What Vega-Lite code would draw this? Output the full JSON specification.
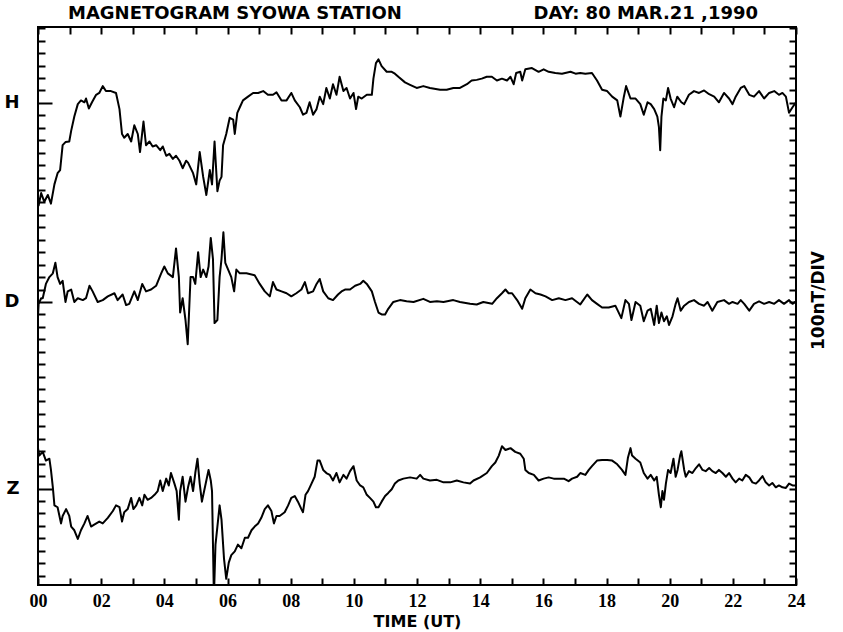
{
"$schema": "https://vega.github.io/schema/vega-lite/v6.json",
"width": 758, "height": 558,
"autosize": {"type": "none"},
"padding": {"left": 38, "top": 27, "right": 47, "bottom": 47},
"background": "white",
"config": {"view": {"stroke": "black", "strokeWidth": 2}, "font": "DejaVu Sans"},
"title": {"text": "MAGNETOGRAM SYOWA STATION\u00a0\u00a0\u00a0\u00a0\u00a0\u00a0\u00a0\u00a0\u00a0\u00a0\u00a0\u00a0\u00a0\u00a0\u00a0\u00a0\u00a0\u00a0\u00a0\u00a0\u00a0DAY: 80 MAR.21 ,1990", "anchor": "start", "frame": "group", "dx": 30, "dy": 7, "offset": 3, "font": "DejaVu Sans", "fontSize": 18, "fontWeight": "bold", "color": "black"},
"datasets": {
"traces": [
{"comp":"H","hour":0,"nT":169},{"comp":"H","hour":0.02,"nT":155},{"comp":"H","hour":0.10,"nT":175},{"comp":"H","hour":0.20,"nT":161},{"comp":"H","hour":0.31,"nT":172},{"comp":"H","hour":0.41,"nT":158},{"comp":"H","hour":0.52,"nT":189},{"comp":"H","hour":0.62,"nT":207},{"comp":"H","hour":0.70,"nT":212},{"comp":"H","hour":0.78,"nT":252},{"comp":"H","hour":0.87,"nT":257},{"comp":"H","hour":0.99,"nT":258},{"comp":"H","hour":1.05,"nT":275},{"comp":"H","hour":1.15,"nT":298},{"comp":"H","hour":1.26,"nT":318},{"comp":"H","hour":1.36,"nT":324},{"comp":"H","hour":1.47,"nT":321},{"comp":"H","hour":1.52,"nT":327},{"comp":"H","hour":1.61,"nT":311},{"comp":"H","hour":1.71,"nT":321},{"comp":"H","hour":1.84,"nT":333},{"comp":"H","hour":1.94,"nT":336},{"comp":"H","hour":2.05,"nT":347},{"comp":"H","hour":2.15,"nT":339},{"comp":"H","hour":2.31,"nT":339},{"comp":"H","hour":2.47,"nT":336},{"comp":"H","hour":2.58,"nT":310},{"comp":"H","hour":2.66,"nT":270},{"comp":"H","hour":2.73,"nT":264},{"comp":"H","hour":2.84,"nT":270},{"comp":"H","hour":2.95,"nT":258},{"comp":"H","hour":3.05,"nT":284},{"comp":"H","hour":3.16,"nT":270},{"comp":"H","hour":3.23,"nT":241},{"comp":"H","hour":3.34,"nT":290},{"comp":"H","hour":3.42,"nT":252},{"comp":"H","hour":3.53,"nT":258},{"comp":"H","hour":3.63,"nT":250},{"comp":"H","hour":3.74,"nT":252},{"comp":"H","hour":3.87,"nT":244},{"comp":"H","hour":3.95,"nT":250},{"comp":"H","hour":4.06,"nT":235},{"comp":"H","hour":4.16,"nT":238},{"comp":"H","hour":4.27,"nT":230},{"comp":"H","hour":4.37,"nT":235},{"comp":"H","hour":4.48,"nT":227},{"comp":"H","hour":4.58,"nT":215},{"comp":"H","hour":4.69,"nT":227},{"comp":"H","hour":4.75,"nT":224},{"comp":"H","hour":4.91,"nT":207},{"comp":"H","hour":5.01,"nT":189},{"comp":"H","hour":5.12,"nT":241},{"comp":"H","hour":5.23,"nT":201},{"comp":"H","hour":5.33,"nT":172},{"comp":"H","hour":5.44,"nT":212},{"comp":"H","hour":5.51,"nT":189},{"comp":"H","hour":5.59,"nT":258},{"comp":"H","hour":5.68,"nT":178},{"comp":"H","hour":5.75,"nT":195},{"comp":"H","hour":5.81,"nT":201},{"comp":"H","hour":5.86,"nT":252},{"comp":"H","hour":5.96,"nT":270},{"comp":"H","hour":6.07,"nT":296},{"comp":"H","hour":6.18,"nT":293},{"comp":"H","hour":6.23,"nT":270},{"comp":"H","hour":6.31,"nT":304},{"comp":"H","hour":6.39,"nT":313},{"comp":"H","hour":6.49,"nT":324},{"comp":"H","hour":6.65,"nT":330},{"comp":"H","hour":6.81,"nT":336},{"comp":"H","hour":6.97,"nT":336},{"comp":"H","hour":7.13,"nT":339},{"comp":"H","hour":7.28,"nT":333},{"comp":"H","hour":7.44,"nT":333},{"comp":"H","hour":7.55,"nT":337},{"comp":"H","hour":7.71,"nT":324},{"comp":"H","hour":7.87,"nT":324},{"comp":"H","hour":8.02,"nT":336},{"comp":"H","hour":8.13,"nT":324},{"comp":"H","hour":8.29,"nT":313},{"comp":"H","hour":8.39,"nT":301},{"comp":"H","hour":8.50,"nT":304},{"comp":"H","hour":8.60,"nT":321},{"comp":"H","hour":8.71,"nT":301},{"comp":"H","hour":8.82,"nT":310},{"comp":"H","hour":8.92,"nT":330},{"comp":"H","hour":9.03,"nT":318},{"comp":"H","hour":9.13,"nT":344},{"comp":"H","hour":9.24,"nT":327},{"comp":"H","hour":9.34,"nT":350},{"comp":"H","hour":9.45,"nT":333},{"comp":"H","hour":9.55,"nT":362},{"comp":"H","hour":9.67,"nT":339},{"comp":"H","hour":9.77,"nT":344},{"comp":"H","hour":9.88,"nT":327},{"comp":"H","hour":9.99,"nT":336},{"comp":"H","hour":10.07,"nT":310},{"comp":"H","hour":10.14,"nT":330},{"comp":"H","hour":10.25,"nT":327},{"comp":"H","hour":10.41,"nT":333},{"comp":"H","hour":10.57,"nT":333},{"comp":"H","hour":10.62,"nT":359},{"comp":"H","hour":10.70,"nT":384},{"comp":"H","hour":10.78,"nT":390},{"comp":"H","hour":10.88,"nT":379},{"comp":"H","hour":11.04,"nT":370},{"comp":"H","hour":11.20,"nT":370},{"comp":"H","hour":11.30,"nT":367},{"comp":"H","hour":11.41,"nT":362},{"comp":"H","hour":11.62,"nT":353},{"comp":"H","hour":11.78,"nT":349},{"comp":"H","hour":11.99,"nT":344},{"comp":"H","hour":12.20,"nT":347},{"comp":"H","hour":12.41,"nT":344},{"comp":"H","hour":12.73,"nT":341},{"comp":"H","hour":12.94,"nT":341},{"comp":"H","hour":13.15,"nT":344},{"comp":"H","hour":13.36,"nT":344},{"comp":"H","hour":13.58,"nT":350},{"comp":"H","hour":13.73,"nT":356},{"comp":"H","hour":13.89,"nT":357},{"comp":"H","hour":14.05,"nT":359},{"comp":"H","hour":14.21,"nT":362},{"comp":"H","hour":14.37,"nT":362},{"comp":"H","hour":14.53,"nT":356},{"comp":"H","hour":14.69,"nT":359},{"comp":"H","hour":14.85,"nT":356},{"comp":"H","hour":14.96,"nT":362},{"comp":"H","hour":15.06,"nT":350},{"comp":"H","hour":15.14,"nT":368},{"comp":"H","hour":15.27,"nT":370},{"comp":"H","hour":15.33,"nT":356},{"comp":"H","hour":15.43,"nT":374},{"comp":"H","hour":15.64,"nT":376},{"comp":"H","hour":15.85,"nT":370},{"comp":"H","hour":16.01,"nT":374},{"comp":"H","hour":16.17,"nT":370},{"comp":"H","hour":16.38,"nT":368},{"comp":"H","hour":16.59,"nT":367},{"comp":"H","hour":16.86,"nT":370},{"comp":"H","hour":17.02,"nT":367},{"comp":"H","hour":17.17,"nT":368},{"comp":"H","hour":17.33,"nT":367},{"comp":"H","hour":17.54,"nT":368},{"comp":"H","hour":17.70,"nT":356},{"comp":"H","hour":17.86,"nT":341},{"comp":"H","hour":18.02,"nT":339},{"comp":"H","hour":18.18,"nT":330},{"comp":"H","hour":18.34,"nT":324},{"comp":"H","hour":18.44,"nT":298},{"comp":"H","hour":18.55,"nT":330},{"comp":"H","hour":18.62,"nT":347},{"comp":"H","hour":18.76,"nT":327},{"comp":"H","hour":18.92,"nT":327},{"comp":"H","hour":19.07,"nT":318},{"comp":"H","hour":19.18,"nT":301},{"comp":"H","hour":19.30,"nT":321},{"comp":"H","hour":19.40,"nT":318},{"comp":"H","hour":19.51,"nT":310},{"comp":"H","hour":19.61,"nT":298},{"comp":"H","hour":19.66,"nT":281},{"comp":"H","hour":19.70,"nT":244},{"comp":"H","hour":19.74,"nT":298},{"comp":"H","hour":19.80,"nT":327},{"comp":"H","hour":19.88,"nT":324},{"comp":"H","hour":19.95,"nT":344},{"comp":"H","hour":20.03,"nT":327},{"comp":"H","hour":20.14,"nT":313},{"comp":"H","hour":20.24,"nT":330},{"comp":"H","hour":20.37,"nT":321},{"comp":"H","hour":20.46,"nT":318},{"comp":"H","hour":20.61,"nT":333},{"comp":"H","hour":20.77,"nT":339},{"comp":"H","hour":20.93,"nT":336},{"comp":"H","hour":21.09,"nT":340},{"comp":"H","hour":21.25,"nT":334},{"comp":"H","hour":21.41,"nT":330},{"comp":"H","hour":21.56,"nT":321},{"comp":"H","hour":21.72,"nT":336},{"comp":"H","hour":21.88,"nT":327},{"comp":"H","hour":21.99,"nT":318},{"comp":"H","hour":22.09,"nT":330},{"comp":"H","hour":22.25,"nT":344},{"comp":"H","hour":22.36,"nT":347},{"comp":"H","hour":22.52,"nT":333},{"comp":"H","hour":22.67,"nT":330},{"comp":"H","hour":22.83,"nT":339},{"comp":"H","hour":22.99,"nT":327},{"comp":"H","hour":23.15,"nT":336},{"comp":"H","hour":23.31,"nT":339},{"comp":"H","hour":23.46,"nT":333},{"comp":"H","hour":23.57,"nT":336},{"comp":"H","hour":23.68,"nT":330},{"comp":"H","hour":23.78,"nT":304},{"comp":"H","hour":23.89,"nT":313},{"comp":"H","hour":24.00,"nT":321},
{"comp":"D","hour":0,"nT":-23},{"comp":"D","hour":0.02,"nT":-3},{"comp":"D","hour":0.10,"nT":6},{"comp":"D","hour":0.15,"nT":6},{"comp":"D","hour":0.25,"nT":29},{"comp":"D","hour":0.36,"nT":40},{"comp":"D","hour":0.47,"nT":46},{"comp":"D","hour":0.55,"nT":63},{"comp":"D","hour":0.62,"nT":40},{"comp":"D","hour":0.70,"nT":29},{"comp":"D","hour":0.78,"nT":34},{"comp":"D","hour":0.87,"nT":0},{"comp":"D","hour":0.94,"nT":17},{"comp":"D","hour":1.05,"nT":20},{"comp":"D","hour":1.15,"nT":0},{"comp":"D","hour":1.26,"nT":6},{"comp":"D","hour":1.42,"nT":3},{"comp":"D","hour":1.52,"nT":6},{"comp":"D","hour":1.63,"nT":26},{"comp":"D","hour":1.73,"nT":17},{"comp":"D","hour":1.89,"nT":0},{"comp":"D","hour":2.05,"nT":3},{"comp":"D","hour":2.21,"nT":9},{"comp":"D","hour":2.42,"nT":14},{"comp":"D","hour":2.52,"nT":3},{"comp":"D","hour":2.68,"nT":12},{"comp":"D","hour":2.79,"nT":-5},{"comp":"D","hour":2.89,"nT":-3},{"comp":"D","hour":3.05,"nT":17},{"comp":"D","hour":3.16,"nT":3},{"comp":"D","hour":3.30,"nT":29},{"comp":"D","hour":3.42,"nT":17},{"comp":"D","hour":3.58,"nT":20},{"comp":"D","hour":3.74,"nT":26},{"comp":"D","hour":3.90,"nT":46},{"comp":"D","hour":4.00,"nT":57},{"comp":"D","hour":4.11,"nT":46},{"comp":"D","hour":4.27,"nT":40},{"comp":"D","hour":4.37,"nT":86},{"comp":"D","hour":4.46,"nT":40},{"comp":"D","hour":4.50,"nT":-17},{"comp":"D","hour":4.58,"nT":6},{"comp":"D","hour":4.67,"nT":-29},{"comp":"D","hour":4.74,"nT":-68},{"comp":"D","hour":4.83,"nT":40},{"comp":"D","hour":4.91,"nT":40},{"comp":"D","hour":4.98,"nT":29},{"comp":"D","hour":5.07,"nT":80},{"comp":"D","hour":5.15,"nT":40},{"comp":"D","hour":5.23,"nT":52},{"comp":"D","hour":5.33,"nT":40},{"comp":"D","hour":5.40,"nT":57},{"comp":"D","hour":5.47,"nT":103},{"comp":"D","hour":5.54,"nT":69},{"comp":"D","hour":5.59,"nT":-34},{"comp":"D","hour":5.68,"nT":-29},{"comp":"D","hour":5.75,"nT":40},{"comp":"D","hour":5.81,"nT":69},{"comp":"D","hour":5.87,"nT":112},{"comp":"D","hour":5.93,"nT":63},{"comp":"D","hour":6.02,"nT":52},{"comp":"D","hour":6.12,"nT":40},{"comp":"D","hour":6.21,"nT":17},{"comp":"D","hour":6.28,"nT":52},{"comp":"D","hour":6.39,"nT":46},{"comp":"D","hour":6.60,"nT":46},{"comp":"D","hour":6.86,"nT":43},{"comp":"D","hour":7.02,"nT":29},{"comp":"D","hour":7.18,"nT":17},{"comp":"D","hour":7.34,"nT":9},{"comp":"D","hour":7.44,"nT":32},{"comp":"D","hour":7.55,"nT":20},{"comp":"D","hour":7.71,"nT":17},{"comp":"D","hour":7.87,"nT":14},{"comp":"D","hour":8.02,"nT":9},{"comp":"D","hour":8.18,"nT":14},{"comp":"D","hour":8.34,"nT":20},{"comp":"D","hour":8.45,"nT":32},{"comp":"D","hour":8.55,"nT":14},{"comp":"D","hour":8.71,"nT":17},{"comp":"D","hour":8.82,"nT":29},{"comp":"D","hour":8.92,"nT":37},{"comp":"D","hour":9.03,"nT":17},{"comp":"D","hour":9.19,"nT":6},{"comp":"D","hour":9.34,"nT":3},{"comp":"D","hour":9.50,"nT":12},{"comp":"D","hour":9.61,"nT":17},{"comp":"D","hour":9.72,"nT":20},{"comp":"D","hour":9.88,"nT":20},{"comp":"D","hour":10.04,"nT":26},{"comp":"D","hour":10.20,"nT":29},{"comp":"D","hour":10.30,"nT":34},{"comp":"D","hour":10.41,"nT":29},{"comp":"D","hour":10.57,"nT":17},{"comp":"D","hour":10.67,"nT":0},{"comp":"D","hour":10.78,"nT":-17},{"comp":"D","hour":10.88,"nT":-20},{"comp":"D","hour":10.99,"nT":-20},{"comp":"D","hour":11.09,"nT":-11},{"comp":"D","hour":11.25,"nT":0},{"comp":"D","hour":11.46,"nT":3},{"comp":"D","hour":11.67,"nT":1},{"comp":"D","hour":11.89,"nT":0},{"comp":"D","hour":12.20,"nT":5},{"comp":"D","hour":12.41,"nT":0},{"comp":"D","hour":12.63,"nT":1},{"comp":"D","hour":12.84,"nT":0},{"comp":"D","hour":13.15,"nT":3},{"comp":"D","hour":13.36,"nT":0},{"comp":"D","hour":13.68,"nT":-3},{"comp":"D","hour":13.89,"nT":-4},{"comp":"D","hour":14.10,"nT":0},{"comp":"D","hour":14.38,"nT":-3},{"comp":"D","hour":14.53,"nT":6},{"comp":"D","hour":14.69,"nT":14},{"comp":"D","hour":14.80,"nT":20},{"comp":"D","hour":14.90,"nT":14},{"comp":"D","hour":15.01,"nT":14},{"comp":"D","hour":15.17,"nT":3},{"comp":"D","hour":15.33,"nT":-11},{"comp":"D","hour":15.43,"nT":6},{"comp":"D","hour":15.59,"nT":20},{"comp":"D","hour":15.75,"nT":14},{"comp":"D","hour":15.91,"nT":12},{"comp":"D","hour":16.07,"nT":9},{"comp":"D","hour":16.28,"nT":3},{"comp":"D","hour":16.49,"nT":6},{"comp":"D","hour":16.70,"nT":3},{"comp":"D","hour":16.91,"nT":6},{"comp":"D","hour":17.17,"nT":-4},{"comp":"D","hour":17.39,"nT":12},{"comp":"D","hour":17.54,"nT":3},{"comp":"D","hour":17.70,"nT":-3},{"comp":"D","hour":17.86,"nT":-9},{"comp":"D","hour":18.07,"nT":-9},{"comp":"D","hour":18.28,"nT":-6},{"comp":"D","hour":18.47,"nT":-26},{"comp":"D","hour":18.60,"nT":3},{"comp":"D","hour":18.71,"nT":-3},{"comp":"D","hour":18.79,"nT":-29},{"comp":"D","hour":18.92,"nT":0},{"comp":"D","hour":19.07,"nT":-6},{"comp":"D","hour":19.18,"nT":-31},{"comp":"D","hour":19.30,"nT":-14},{"comp":"D","hour":19.40,"nT":-11},{"comp":"D","hour":19.51,"nT":-37},{"comp":"D","hour":19.59,"nT":-6},{"comp":"D","hour":19.66,"nT":-34},{"comp":"D","hour":19.74,"nT":-17},{"comp":"D","hour":19.82,"nT":-31},{"comp":"D","hour":19.91,"nT":-23},{"comp":"D","hour":19.98,"nT":-37},{"comp":"D","hour":20.09,"nT":-23},{"comp":"D","hour":20.19,"nT":-3},{"comp":"D","hour":20.25,"nT":6},{"comp":"D","hour":20.35,"nT":-14},{"comp":"D","hour":20.46,"nT":-6},{"comp":"D","hour":20.61,"nT":0},{"comp":"D","hour":20.77,"nT":3},{"comp":"D","hour":20.93,"nT":-3},{"comp":"D","hour":21.09,"nT":-6},{"comp":"D","hour":21.20,"nT":0},{"comp":"D","hour":21.35,"nT":-14},{"comp":"D","hour":21.51,"nT":0},{"comp":"D","hour":21.72,"nT":3},{"comp":"D","hour":21.88,"nT":-3},{"comp":"D","hour":21.99,"nT":0},{"comp":"D","hour":22.15,"nT":-3},{"comp":"D","hour":22.25,"nT":3},{"comp":"D","hour":22.36,"nT":-3},{"comp":"D","hour":22.52,"nT":-14},{"comp":"D","hour":22.67,"nT":-3},{"comp":"D","hour":22.83,"nT":1},{"comp":"D","hour":22.99,"nT":-3},{"comp":"D","hour":23.15,"nT":0},{"comp":"D","hour":23.31,"nT":-3},{"comp":"D","hour":23.46,"nT":3},{"comp":"D","hour":23.62,"nT":-3},{"comp":"D","hour":23.78,"nT":3},{"comp":"D","hour":23.89,"nT":-3},{"comp":"D","hour":24.00,"nT":1},
{"comp":"Z","hour":0,"nT":-235},{"comp":"Z","hour":0.04,"nT":-247},{"comp":"Z","hour":0.15,"nT":-241},{"comp":"Z","hour":0.25,"nT":-255},{"comp":"Z","hour":0.36,"nT":-252},{"comp":"Z","hour":0.41,"nT":-270},{"comp":"Z","hour":0.47,"nT":-298},{"comp":"Z","hour":0.52,"nT":-327},{"comp":"Z","hour":0.62,"nT":-330},{"comp":"Z","hour":0.73,"nT":-356},{"comp":"Z","hour":0.78,"nT":-344},{"comp":"Z","hour":0.89,"nT":-333},{"comp":"Z","hour":0.99,"nT":-344},{"comp":"Z","hour":1.05,"nT":-361},{"comp":"Z","hour":1.15,"nT":-367},{"comp":"Z","hour":1.26,"nT":-381},{"comp":"Z","hour":1.36,"nT":-367},{"comp":"Z","hour":1.47,"nT":-356},{"comp":"Z","hour":1.57,"nT":-344},{"comp":"Z","hour":1.68,"nT":-361},{"comp":"Z","hour":1.78,"nT":-358},{"comp":"Z","hour":1.94,"nT":-353},{"comp":"Z","hour":2.05,"nT":-356},{"comp":"Z","hour":2.21,"nT":-347},{"comp":"Z","hour":2.37,"nT":-336},{"comp":"Z","hour":2.47,"nT":-327},{"comp":"Z","hour":2.58,"nT":-330},{"comp":"Z","hour":2.66,"nT":-353},{"comp":"Z","hour":2.73,"nT":-338},{"comp":"Z","hour":2.84,"nT":-333},{"comp":"Z","hour":2.95,"nT":-315},{"comp":"Z","hour":3.02,"nT":-333},{"comp":"Z","hour":3.11,"nT":-327},{"comp":"Z","hour":3.21,"nT":-315},{"comp":"Z","hour":3.30,"nT":-327},{"comp":"Z","hour":3.37,"nT":-310},{"comp":"Z","hour":3.47,"nT":-318},{"comp":"Z","hour":3.58,"nT":-315},{"comp":"Z","hour":3.69,"nT":-310},{"comp":"Z","hour":3.79,"nT":-304},{"comp":"Z","hour":3.87,"nT":-287},{"comp":"Z","hour":3.95,"nT":-304},{"comp":"Z","hour":4.06,"nT":-284},{"comp":"Z","hour":4.14,"nT":-295},{"comp":"Z","hour":4.21,"nT":-275},{"comp":"Z","hour":4.32,"nT":-292},{"comp":"Z","hour":4.39,"nT":-304},{"comp":"Z","hour":4.46,"nT":-350},{"comp":"Z","hour":4.50,"nT":-304},{"comp":"Z","hour":4.58,"nT":-281},{"comp":"Z","hour":4.67,"nT":-321},{"comp":"Z","hour":4.75,"nT":-298},{"comp":"Z","hour":4.83,"nT":-281},{"comp":"Z","hour":4.91,"nT":-304},{"comp":"Z","hour":4.98,"nT":-275},{"comp":"Z","hour":5.05,"nT":-252},{"comp":"Z","hour":5.12,"nT":-292},{"comp":"Z","hour":5.19,"nT":-321},{"comp":"Z","hour":5.26,"nT":-304},{"comp":"Z","hour":5.33,"nT":-287},{"comp":"Z","hour":5.40,"nT":-270},{"comp":"Z","hour":5.47,"nT":-287},{"comp":"Z","hour":5.51,"nT":-304},{"comp":"Z","hour":5.57,"nT":-475},{"comp":"Z","hour":5.62,"nT":-390},{"comp":"Z","hour":5.68,"nT":-361},{"comp":"Z","hour":5.75,"nT":-327},{"comp":"Z","hour":5.81,"nT":-350},{"comp":"Z","hour":5.89,"nT":-413},{"comp":"Z","hour":5.96,"nT":-445},{"comp":"Z","hour":6.04,"nT":-419},{"comp":"Z","hour":6.12,"nT":-407},{"comp":"Z","hour":6.23,"nT":-401},{"comp":"Z","hour":6.33,"nT":-390},{"comp":"Z","hour":6.44,"nT":-396},{"comp":"Z","hour":6.55,"nT":-379},{"comp":"Z","hour":6.65,"nT":-379},{"comp":"Z","hour":6.76,"nT":-367},{"comp":"Z","hour":6.86,"nT":-361},{"comp":"Z","hour":6.97,"nT":-356},{"comp":"Z","hour":7.07,"nT":-347},{"comp":"Z","hour":7.18,"nT":-333},{"comp":"Z","hour":7.28,"nT":-327},{"comp":"Z","hour":7.39,"nT":-336},{"comp":"Z","hour":7.47,"nT":-356},{"comp":"Z","hour":7.55,"nT":-344},{"comp":"Z","hour":7.65,"nT":-344},{"comp":"Z","hour":7.81,"nT":-338},{"comp":"Z","hour":7.92,"nT":-327},{"comp":"Z","hour":8.02,"nT":-315},{"comp":"Z","hour":8.13,"nT":-312},{"comp":"Z","hour":8.23,"nT":-321},{"comp":"Z","hour":8.34,"nT":-333},{"comp":"Z","hour":8.39,"nT":-338},{"comp":"Z","hour":8.47,"nT":-310},{"comp":"Z","hour":8.55,"nT":-304},{"comp":"Z","hour":8.66,"nT":-292},{"comp":"Z","hour":8.76,"nT":-281},{"comp":"Z","hour":8.85,"nT":-255},{"comp":"Z","hour":8.92,"nT":-255},{"comp":"Z","hour":9.03,"nT":-270},{"comp":"Z","hour":9.13,"nT":-275},{"comp":"Z","hour":9.24,"nT":-278},{"comp":"Z","hour":9.34,"nT":-287},{"comp":"Z","hour":9.45,"nT":-275},{"comp":"Z","hour":9.55,"nT":-290},{"comp":"Z","hour":9.67,"nT":-278},{"comp":"Z","hour":9.77,"nT":-284},{"comp":"Z","hour":9.88,"nT":-272},{"comp":"Z","hour":9.99,"nT":-264},{"comp":"Z","hour":10.09,"nT":-287},{"comp":"Z","hour":10.20,"nT":-295},{"comp":"Z","hour":10.30,"nT":-298},{"comp":"Z","hour":10.41,"nT":-310},{"comp":"Z","hour":10.51,"nT":-315},{"comp":"Z","hour":10.62,"nT":-321},{"comp":"Z","hour":10.70,"nT":-330},{"comp":"Z","hour":10.78,"nT":-330},{"comp":"Z","hour":10.88,"nT":-321},{"comp":"Z","hour":10.99,"nT":-312},{"comp":"Z","hour":11.09,"nT":-307},{"comp":"Z","hour":11.20,"nT":-301},{"comp":"Z","hour":11.30,"nT":-292},{"comp":"Z","hour":11.41,"nT":-287},{"comp":"Z","hour":11.57,"nT":-284},{"comp":"Z","hour":11.78,"nT":-282},{"comp":"Z","hour":11.99,"nT":-284},{"comp":"Z","hour":12.10,"nT":-278},{"comp":"Z","hour":12.20,"nT":-284},{"comp":"Z","hour":12.41,"nT":-287},{"comp":"Z","hour":12.63,"nT":-286},{"comp":"Z","hour":12.84,"nT":-290},{"comp":"Z","hour":13.05,"nT":-290},{"comp":"Z","hour":13.26,"nT":-287},{"comp":"Z","hour":13.47,"nT":-290},{"comp":"Z","hour":13.68,"nT":-292},{"comp":"Z","hour":13.79,"nT":-287},{"comp":"Z","hour":14.00,"nT":-282},{"comp":"Z","hour":14.21,"nT":-275},{"comp":"Z","hour":14.37,"nT":-264},{"comp":"Z","hour":14.48,"nT":-258},{"comp":"Z","hour":14.59,"nT":-247},{"comp":"Z","hour":14.69,"nT":-232},{"comp":"Z","hour":14.80,"nT":-238},{"comp":"Z","hour":14.96,"nT":-235},{"comp":"Z","hour":15.11,"nT":-241},{"comp":"Z","hour":15.27,"nT":-244},{"comp":"Z","hour":15.38,"nT":-252},{"comp":"Z","hour":15.43,"nT":-270},{"comp":"Z","hour":15.54,"nT":-275},{"comp":"Z","hour":15.70,"nT":-278},{"comp":"Z","hour":15.85,"nT":-287},{"comp":"Z","hour":16.01,"nT":-284},{"comp":"Z","hour":16.17,"nT":-282},{"comp":"Z","hour":16.33,"nT":-284},{"comp":"Z","hour":16.49,"nT":-284},{"comp":"Z","hour":16.65,"nT":-284},{"comp":"Z","hour":16.80,"nT":-288},{"comp":"Z","hour":16.91,"nT":-284},{"comp":"Z","hour":17.07,"nT":-281},{"comp":"Z","hour":17.17,"nT":-275},{"comp":"Z","hour":17.33,"nT":-278},{"comp":"Z","hour":17.44,"nT":-270},{"comp":"Z","hour":17.54,"nT":-264},{"comp":"Z","hour":17.70,"nT":-255},{"comp":"Z","hour":17.86,"nT":-254},{"comp":"Z","hour":18.02,"nT":-254},{"comp":"Z","hour":18.18,"nT":-255},{"comp":"Z","hour":18.34,"nT":-261},{"comp":"Z","hour":18.49,"nT":-270},{"comp":"Z","hour":18.60,"nT":-278},{"comp":"Z","hour":18.68,"nT":-250},{"comp":"Z","hour":18.76,"nT":-235},{"comp":"Z","hour":18.81,"nT":-247},{"comp":"Z","hour":18.92,"nT":-252},{"comp":"Z","hour":19.07,"nT":-258},{"comp":"Z","hour":19.18,"nT":-275},{"comp":"Z","hour":19.30,"nT":-284},{"comp":"Z","hour":19.40,"nT":-278},{"comp":"Z","hour":19.51,"nT":-287},{"comp":"Z","hour":19.59,"nT":-281},{"comp":"Z","hour":19.66,"nT":-310},{"comp":"Z","hour":19.72,"nT":-330},{"comp":"Z","hour":19.77,"nT":-304},{"comp":"Z","hour":19.82,"nT":-318},{"comp":"Z","hour":19.88,"nT":-292},{"comp":"Z","hour":19.95,"nT":-270},{"comp":"Z","hour":20.03,"nT":-275},{"comp":"Z","hour":20.12,"nT":-252},{"comp":"Z","hour":20.19,"nT":-281},{"comp":"Z","hour":20.25,"nT":-270},{"comp":"Z","hour":20.33,"nT":-247},{"comp":"Z","hour":20.37,"nT":-240},{"comp":"Z","hour":20.46,"nT":-270},{"comp":"Z","hour":20.51,"nT":-281},{"comp":"Z","hour":20.61,"nT":-272},{"comp":"Z","hour":20.72,"nT":-275},{"comp":"Z","hour":20.83,"nT":-267},{"comp":"Z","hour":20.93,"nT":-261},{"comp":"Z","hour":21.04,"nT":-270},{"comp":"Z","hour":21.14,"nT":-272},{"comp":"Z","hour":21.25,"nT":-267},{"comp":"Z","hour":21.35,"nT":-272},{"comp":"Z","hour":21.46,"nT":-275},{"comp":"Z","hour":21.56,"nT":-270},{"comp":"Z","hour":21.67,"nT":-275},{"comp":"Z","hour":21.78,"nT":-281},{"comp":"Z","hour":21.88,"nT":-275},{"comp":"Z","hour":21.99,"nT":-284},{"comp":"Z","hour":22.09,"nT":-290},{"comp":"Z","hour":22.20,"nT":-284},{"comp":"Z","hour":22.30,"nT":-287},{"comp":"Z","hour":22.41,"nT":-278},{"comp":"Z","hour":22.52,"nT":-282},{"comp":"Z","hour":22.62,"nT":-290},{"comp":"Z","hour":22.73,"nT":-292},{"comp":"Z","hour":22.83,"nT":-287},{"comp":"Z","hour":22.94,"nT":-280},{"comp":"Z","hour":23.04,"nT":-290},{"comp":"Z","hour":23.15,"nT":-295},{"comp":"Z","hour":23.25,"nT":-291},{"comp":"Z","hour":23.36,"nT":-298},{"comp":"Z","hour":23.46,"nT":-295},{"comp":"Z","hour":23.57,"nT":-298},{"comp":"Z","hour":23.68,"nT":-299},{"comp":"Z","hour":23.78,"nT":-292},{"comp":"Z","hour":23.89,"nT":-295},{"comp":"Z","hour":24.00,"nT":-295}
]
},
"layer": [
{
"data": {"name": "traces"},
"mark": {"type": "line", "color": "black", "strokeWidth": 2, "clip": true, "strokeJoin": "round"},
"encoding": {
"x": {"field": "hour", "type": "quantitative", "scale": {"domain": [0, 24], "nice": false, "zero": false},
"axis": {"orient": "bottom", "values": [0,1,2,3,4,5,6,7,8,9,10,11,12,13,14,15,16,17,18,19,20,21,22,23,24],
"labelExpr": "datum.value % 2 == 0 ? (datum.value < 10 ? '0' + datum.value : '' + datum.value) : ''",
"tickSize": -7, "tickWidth": 2, "tickColor": "black", "domain": false, "grid": false,
"labelFont": "Liberation Sans Narrow", "labelFontSize": 18, "labelFontWeight": "bold", "labelColor": "black",
"labelPadding": 14, "labelFlush": false, "labelOverlap": false, "labelBound": false,
"title": "TIME (UT)", "titleFont": "DejaVu Sans", "titleFontSize": 16, "titleFontWeight": "bold", "titleColor": "black", "titlePadding": 3}},
"y": {"field": "nT", "type": "quantitative", "scale": {"domain": [-455, 442], "nice": false, "zero": false},
"axis": {"orient": "left", "values": [-440,-420,-400,-380,-360,-340,-320,-300,-280,-260,-240,-220,-200,-180,-160,-140,-120,-100,-80,-60,-40,-20,0,20,40,60,80,100,120,140,160,180,200,220,240,260,280,300,320,340,360,380,400,420,440],
"labelExpr": "datum.value == 320 ? 'H' : datum.value == 0 ? 'D' : datum.value == -300 ? 'Z' : ''",
"tickSize": {"condition": {"test": "datum.value == 320 || datum.value == 0 || datum.value == -300", "value": -14}, "value": -7},
"tickWidth": 2, "tickColor": "black", "domain": false, "grid": false,
"labelFont": "DejaVu Sans", "labelFontSize": 18, "labelFontWeight": "bold", "labelColor": "black",
"labelPadding": 33, "labelOverlap": false, "labelBound": false, "labelFlush": false, "title": null}},
"detail": {"field": "comp"}
}
},
{
"data": {"values": [{"hour": 0, "nT": 0}]},
"mark": {"type": "point", "opacity": 0},
"encoding": {
"x": {"field": "hour", "type": "quantitative", "scale": {"domain": [0, 24], "nice": false, "zero": false},
"axis": {"orient": "top", "values": [0,1,2,3,4,5,6,7,8,9,10,11,12,13,14,15,16,17,18,19,20,21,22,23,24],
"labels": true, "labelExpr": "''", "ticks": true, "tickSize": -7, "tickWidth": 2, "tickColor": "black", "tickOpacity": 1, "domain": false, "grid": false, "title": null}},
"y": {"field": "nT", "type": "quantitative", "scale": {"domain": [-455, 442], "nice": false, "zero": false},
"axis": {"orient": "right", "values": [-440,-420,-400,-380,-360,-340,-320,-300,-280,-260,-240,-220,-200,-180,-160,-140,-120,-100,-80,-60,-40,-20,0,20,40,60,80,100,120,140,160,180,200,220,240,260,280,300,320,340,360,380,400,420,440],
"labels": true, "labelExpr": "''", "ticks": true, "tickSize": -7, "tickWidth": 2, "tickColor": "black", "tickOpacity": 1, "domain": false, "grid": false,
"title": "100nT/DIV", "titleFont": "DejaVu Sans", "titleFontSize": 17, "titleFontWeight": "bold", "titleColor": "black",
"titleAngle": 270, "titleX": 22, "titleY": 273, "titleAlign": "center", "titleBaseline": "middle"}}
}
}
],
"resolve": {"axis": {"x": "independent", "y": "independent"}}
}
